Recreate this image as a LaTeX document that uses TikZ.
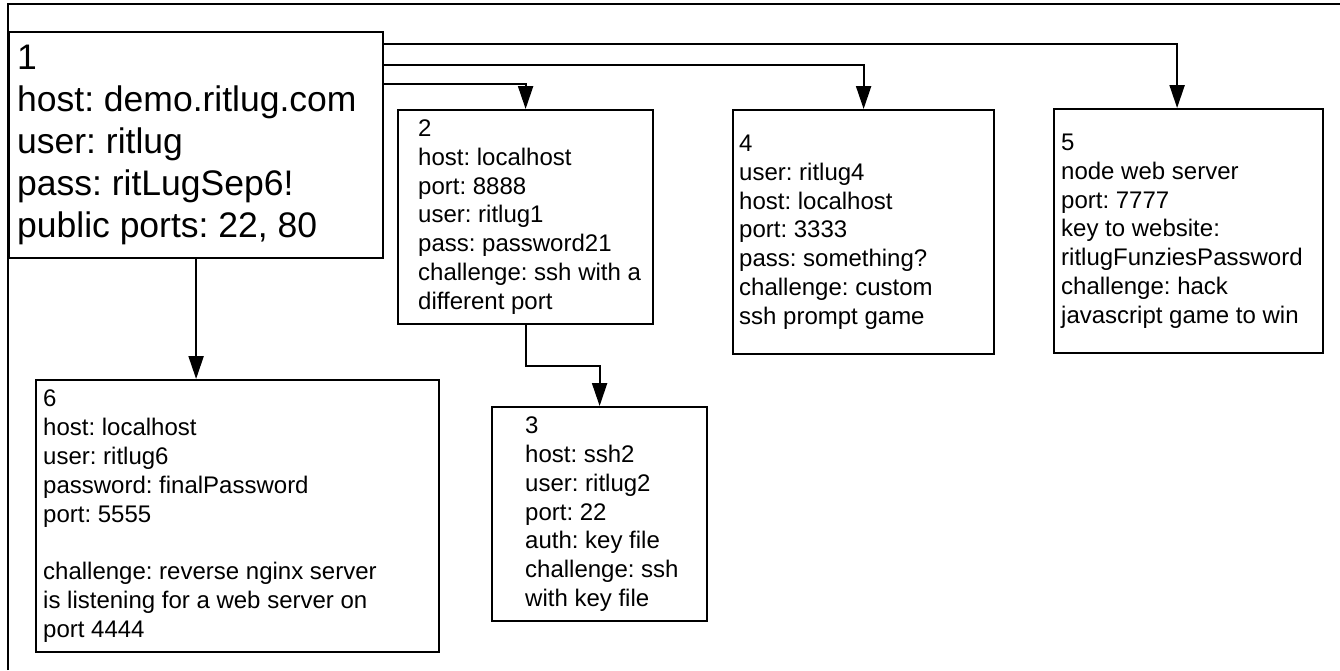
\documentclass[tikz,border=0pt]{standalone}
\usepackage{fontspec}
\setmainfont{Liberation Sans}
\frenchspacing
\usetikzlibrary{arrows.meta, positioning}

\begin{document}
\begin{tikzpicture}[x=1pt, y=-1pt,
  box/.style={draw, line width=2.2pt, inner sep=0pt, anchor=north west},
  bigtxt/.style={align=left, anchor=west, inner sep=0pt, font=\fontsize{35.5}{42}\selectfont},
  txt/.style={align=left, anchor=west, inner sep=0pt, font=\fontsize{24}{28.8}\selectfont},
  link/.style={line width=2.2pt, -{Triangle[length=23pt, width=15pt]}}]
\useasboundingbox (0,0) rectangle (1340,670);
% page frame
\draw[line width=2.2pt] (8,670) -- (8,4) -- (1340,4);

% 1: entry host
\node[box, minimum width=374pt, minimum height=226pt] (b1) at (8,31) {};
\node[bigtxt, right=9pt of b1.west] (t1) {1\\host: demo.ritlug.com\\user: ritlug\\pass: ritLugSep6!\\public ports: 22, 80};

% 2
\node[box, minimum width=255pt, minimum height=214pt] (b2) at (397,109) {};
\node[txt, right=21pt of b2.west] (t2) {2\\host: localhost\\port: 8888\\user: ritlug1\\pass: password21\\challenge: ssh with a\\different port};

% 3
\node[box, minimum width=215pt, minimum height=214pt] (b3) at (491,406) {};
\node[txt, right=34pt of b3.west] (t3) {3\\host: ssh2\\user: ritlug2\\port: 22\\auth: key file\\challenge: ssh\\with key file};

% 4
\node[box, minimum width=261pt, minimum height=244pt] (b4) at (732,109) {};
\node[txt, right=7pt of b4.west] (t4) {4\\user: ritlug4\\host: localhost\\port: 3333\\pass: something?\\challenge: custom\\ssh prompt game};

% 5
\node[box, minimum width=269pt, minimum height=244pt] (b5) at (1053,108) {};
\node[txt, right=8pt of b5.west] (t5) {5\\node web server\\port: 7777\\key to website:\\ritlugFunziesPassword\\challenge: hack\\javascript game to win};

% 6
\node[box, minimum width=403pt, minimum height=272pt] (b6) at (35,379) {};
\node[txt, right=8pt of b6.west] (t6) {6\\host: localhost\\user: ritlug6\\password: finalPassword\\port: 5555\\[28.8pt]challenge: reverse nginx server\\is listening for a web server on\\port 4444};

% links
\draw[link] ([yshift=-13pt]b1.north east) -| ([xshift=-11.5pt]b5.north);
\draw[link] ([yshift=-34pt]b1.north east) -| (b4.north);
\draw[link] ([yshift=-53pt]b1.north east) -| (b2.north);
\draw[link] (b1.south) -- (b1.south |- b6.north);
\draw[link] (b2.south) -- ++(0,41) -| (b3.north);
\end{tikzpicture}
\end{document}
